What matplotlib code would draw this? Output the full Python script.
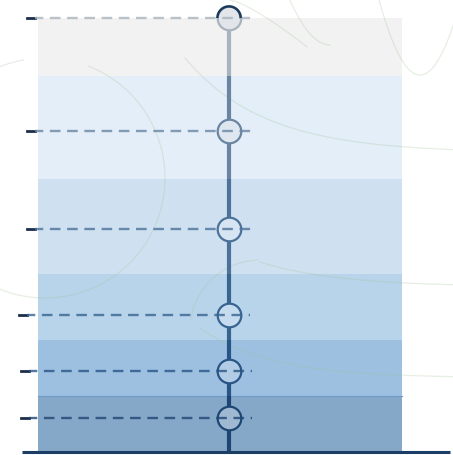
#!/usr/bin/env python3

import numpy as np
import matplotlib
matplotlib.use("Agg")
import matplotlib.pyplot as plt

# band boundaries (bottom -> top) and marker levels, same units as the y axis
band_edges = [0, 56, 112, 178, 273, 376, 434]
band_colors = ["#86a8c8", "#9dc0e1", "#b8d4eb", "#cfe1f1", "#e3eef8", "#f2f2f2"]
stem_colors = ["#1d4673", "#285585", "#386490", "#4d7299", "#6a85a2", "#a9b3bd"]
marker_fill = ["#9fb9d2", "#b3cce5", "#c6dbee", "#d7e5f2", "#dee7f0", "#e2e6ea"]
marker_levels = [34, 81, 137, 223, 321, 434]
line_starts = [21, 21, 19, 27, 27, 27]
line_ends = [252, 252, 250, 256, 256, 256]

fig = plt.figure(figsize=(4.53, 4.55), dpi=100)
ax = fig.add_axes([0, 0, 1, 1])
ax.set_xlim(0, 453)
ax.set_ylim(-3, 452)
ax.axis("off")


def faint(xs, ys, alpha=0.25):
    # decorative curve given in picture pixels (y down)
    ax.plot(xs, 452 - np.asarray(ys), color="#9cc090", lw=0.9, alpha=alpha, zorder=2)


# faint decorative curves in the background
t = np.linspace(-1.2, 2.2, 240)
faint(45 + 120 * np.cos(t), 178 + 120 * np.sin(t))
t = np.linspace(1.75, 2.35, 40)
faint(45 + 120 * np.cos(-t), 178 + 120 * np.sin(-t))
xs = np.linspace(185, 453, 200)
faint(xs, 153 - 95 * np.exp(-(xs - 185) / 80))
xs = np.linspace(375, 453, 100)
faint(xs, 75 - 0.045 * (xs - 420) ** 2 + 0 * xs)
xs = np.linspace(290, 330, 30)
faint(xs, 45 - 0.028 * (xs - 330) ** 2)
xs = np.linspace(230, 307, 40)
faint(xs, 47 * ((xs - 230) / 77) ** 1.3)
t = np.linspace(1.6, 3.0, 100)
faint(260 + 70 * np.cos(t), 330 - 70 * np.sin(t))
xs = np.linspace(260, 453, 100)
faint(xs, 262 + 25 * (1 - np.exp(-(xs - 260) / 80)))
xs = np.linspace(200, 453, 150)
faint(xs, 378 - 50 * np.exp(-(xs - 200) / 70))

x0, x1, xc = 38, 402, 229
for i in range(len(band_colors)):
    lo, hi = band_edges[i], band_edges[i + 1]
    ax.fill_between([x0, x1], lo, hi, color=band_colors[i], lw=0, zorder=1)
    ax.plot([xc, xc], [lo, hi], color=stem_colors[i], lw=3, solid_capstyle="butt", zorder=3)
ax.plot([x0, x1], [band_edges[1], band_edges[1]], color="#6f9bc8", lw=0.8, zorder=1)

for i, y in enumerate(marker_levels):
    c = stem_colors[i]
    ax.plot(xc, y, "o", ms=17, mfc=marker_fill[i], mec=c, mew=1.6, zorder=4)
    ax.plot([line_starts[i], line_starts[i] + 8], [y, y], color="#1b2f4a", lw=2, zorder=5)
    ax.plot([line_starts[i] + 8, line_ends[i]], [y, y], color=c, lw=1.7, ls=(1, (4.5, 2.8)), alpha=0.8, zorder=5)

# dark cap on top marker
t = np.linspace(0.1, np.pi - 0.1, 60)
ax.plot(xc + 11.6 * np.cos(t), marker_levels[-1] + 11.6 * np.sin(t), color="#1b3a5a", lw=1.8, zorder=6)

ax.plot([22, 450], [0, 0], color="#1b3d66", lw=2.2, solid_capstyle="butt", zorder=6)

fig.savefig("out.png", dpi=100)
